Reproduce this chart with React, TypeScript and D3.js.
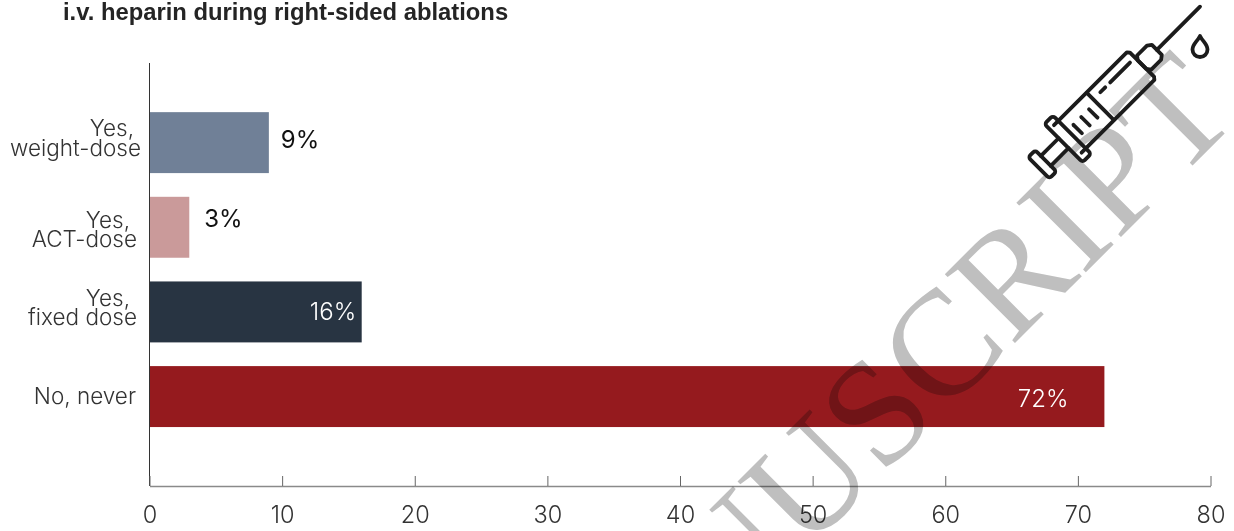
import React, { useEffect, useRef } from "react";
import * as d3 from "d3";

const categories = ["weight", "act", "fixed", "never"];
const values = [9, 3, 16, 72];
const valueLabels = ["9%", "3%", "16%", "72%"];
const barColors = ["#708097", "#ca9a9a", "#283442", "#951a1e"];
const categoryLines = [
  ["Yes,", "weight-dose"],
  ["Yes,", "ACT-dose"],
  ["Yes,", "fixed dose"],
  ["No, never"],
];
const lineRightEdges = [[134, 141], [130, 137], [130, 137], [136]];
const lineBaselineOffsets = [[-7, 13], [1, 20], [-6, 13], [7]];
const valueLabelOffsets = [5, 0, 8.5, 10.5];
const xTicks = [0, 10, 20, 30, 40, 50, 60, 70, 80];

const WIDTH = 1234;
const HEIGHT = 531;
const AXIS_Y = 486;
const FONT = "Inter, 'Liberation Sans', sans-serif";

const x = d3.scaleLinear().domain([0, 80]).range([149.5, 1210.5]);
const y = d3.scaleBand().domain(categories).range([100.3, 438.9]).paddingInner(0.28).paddingOuter(0.14);

// Line icon of a syringe, laid out along its own axis starting at the needle tip.
function Syringe() {
  const ink = "#1c1c1c";
  return (
    <g fill="none" stroke={ink} strokeLinejoin="round" strokeLinecap="round">
      <g transform="translate(1200 6.7) rotate(135)" strokeWidth={3.8}>
        <line x1={0} y1={0} x2={61} y2={0} />
        <path d="M61,-7 L61,7 L65,10 L79,10 L82,6 L82,-6 L79,-10 L65,-10 Z" />
        <path d="M82,-17 L84,-19.5 L187,-19.5 M82,17 L84,19.5 L187,19.5 M82,-17 L82,17" />
        <line x1={141} y1={-19} x2={141} y2={19} />
        <rect x={181} y={-27} width={12} height={54} rx={3} />
        <line x1={193} y1={-7} x2={218} y2={-7} />
        <line x1={193} y1={7} x2={218} y2={7} />
        <rect x={218} y={-15} width={10} height={30} rx={3} />
        {[151, 162, 173].map((tx) => (
          <line key={tx} x1={tx} y1={-6} x2={tx} y2={6} />
        ))}
        <line x1={89} y1={10} x2={117} y2={10} />
        <line x1={124} y1={10} x2={131} y2={10} />
      </g>
      <path
        d="M1200,36 C1203,42 1207.5,44 1207.5,49.5 A7.5,7.5 0 0 1 1192.5,49.5 C1192.5,44 1197,42 1200,36 Z"
        strokeWidth={3.8}
      />
    </g>
  );
}

export default function App() {
  const axisRef = useRef<SVGGElement>(null);

  useEffect(() => {
    const axis = d3
      .axisBottom(x)
      .tickValues(xTicks)
      .tickSizeInner(-10)
      .tickSizeOuter(0)
      .tickPadding(0);
    const g = d3.select(axisRef.current as SVGGElement).call(axis as any);
    g.select(".domain").attr("stroke", "#8a8a8a").attr("stroke-width", 1.3);
    g.selectAll(".tick line").attr("stroke", "#666").attr("stroke-width", 1);
    g.selectAll(".tick text")
      .attr("y", 37)
      .attr("dy", 0)
      .attr("fill", "#333")
      .attr("font-family", FONT)
      .attr("font-weight", 300)
      .attr("font-size", 23.5);
  }, []);

  return (
    <svg
      width={WIDTH}
      height={HEIGHT}
      viewBox={`0 0 ${WIDTH} ${HEIGHT}`}
      style={{ position: "fixed", left: 0, top: 0, background: "#fff" }}
    >
      <text
        x={63}
        y={20}
        fontFamily="'Liberation Sans', sans-serif"
        fontWeight={700}
        fontSize={23.8}
        fill="#242424"
      >
        i.v. heparin during right-sided ablations
      </text>

      {categories.map((c, i) => (
        <rect
          key={c}
          x={x(0)}
          y={y(c)}
          width={x(values[i]) - x(0)}
          height={y.bandwidth()}
          fill={barColors[i]}
        />
      ))}

      <line x1={149.5} x2={149.5} y1={63} y2={AXIS_Y} stroke="#333" strokeWidth={1} />
      <g ref={axisRef} transform={`translate(0 ${AXIS_Y})`} />

      {categories.map((c, i) => {
        const mid = (y(c) as number) + y.bandwidth() / 2;
        return categoryLines[i].map((line, j) => (
          <text
            key={line}
            x={lineRightEdges[i][j]}
            y={mid + lineBaselineOffsets[i][j]}
            textAnchor="end"
            fontFamily={FONT}
            fontWeight={300}
            fontSize={22.5}
            fill="#333"
          >
            {line}
          </text>
        ));
      })}

      {categories.map((c, i) => {
        const mid = (y(c) as number) + y.bandwidth() / 2;
        const inside = values[i] >= 10;
        return (
          <text
            key={c}
            x={inside ? x(values[i]) - (i === 3 ? 36 : 5.5) : x(values[i]) + (i === 0 ? 12 : 15)}
            y={mid + valueLabelOffsets[i]}
            textAnchor={inside ? "end" : "start"}
            fontFamily={FONT}
            fontWeight={inside ? 300 : 400}
            fontSize={24}
            fill={inside ? "#fff" : "#111"}
          >
            {valueLabels[i]}
          </text>
        );
      })}

      <text
        transform="translate(1241 117) rotate(-45)"
        textAnchor="end"
        fontFamily="'Liberation Serif', serif"
        fontSize={150}
        fill="#bfbfbf"
        style={{ mixBlendMode: "multiply" }}
      >
        MANUSCRIPT
      </text>

      <Syringe />
    </svg>
  );
}
